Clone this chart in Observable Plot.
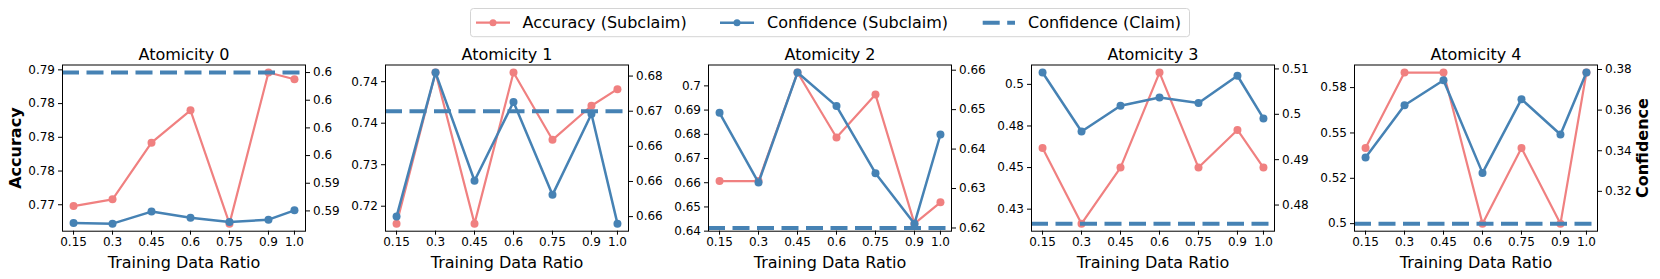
<!DOCTYPE html>
<html>
<head>
<meta charset="utf-8">
<script src="https://cdn.jsdelivr.net/npm/d3@7"></script>
<script src="https://cdn.jsdelivr.net/npm/@observablehq/plot@0.6"></script>
<style>
  html, body { margin: 0; padding: 0; background: white; }
  #root { position: relative; width: 1660px; height: 279px; overflow: hidden; font-family: "DejaVu Sans", sans-serif; }
  #root svg.panel { position: absolute; top: 0; }
</style>
</head>
<body>
<div id="root"></div>
<script>
// ---------------- data ----------------
const ratios = [0.15, 0.3, 0.45, 0.6, 0.75, 0.9, 1.0];
const ratioLabels = ["0.15", "0.3", "0.45", "0.6", "0.75", "0.9", "1.0"];
const titles = ["Atomicity 0", "Atomicity 1", "Atomicity 2", "Atomicity 3", "Atomicity 4"];

const accuracySubclaim = [
  [0.7774, 0.7779, 0.7821, 0.7845, 0.7761, 0.7873, 0.7868],
  [0.7229, 0.7411, 0.7229, 0.7411, 0.7330, 0.7371, 0.7391],
  [0.6607, 0.6607, 0.7055, 0.6787, 0.6964, 0.6431, 0.6519],
  [0.4618, 0.4163, 0.4500, 0.5071, 0.4500, 0.4726, 0.4500],
  [0.5417, 0.5833, 0.5833, 0.5000, 0.5417, 0.5000, 0.5833]
];
const confidenceSubclaim = [
  [0.59113, 0.59108, 0.59195, 0.59151, 0.59120, 0.59137, 0.59204],
  [0.6550, 0.6755, 0.6601, 0.6713, 0.6581, 0.6696, 0.6540],
  [0.6492, 0.6315, 0.6594, 0.6509, 0.6339, 0.6211, 0.6437],
  [0.5092, 0.4962, 0.5019, 0.5037, 0.5025, 0.5085, 0.4991],
  [0.3367, 0.3624, 0.3747, 0.3291, 0.3654, 0.3480, 0.3785]
];
const confidenceClaim = [0.6020, 0.6700, 0.6200, 0.4759, 0.3041];
const claimInRange = [true, true, false, true, true];

const accTicks = [
  [0.7775, 0.78, 0.7825, 0.785, 0.7875],
  [0.725, 0.73, 0.735, 0.74],
  [0.64, 0.65, 0.66, 0.67, 0.68, 0.69, 0.70],
  [0.425, 0.45, 0.475, 0.5],
  [0.5, 0.525, 0.55, 0.575]
];
const accTickLabels = [
  ["0.77", "0.78", "0.78", "0.78", "0.79"],
  ["0.72", "0.73", "0.74", "0.74"],
  ["0.64", "0.65", "0.66", "0.67", "0.68", "0.69", "0.7"],
  ["0.43", "0.45", "0.48", "0.5"],
  ["0.5", "0.52", "0.55", "0.58"]
];
const confTicks = [
  [0.592, 0.594, 0.596, 0.598, 0.600, 0.602],
  [0.655, 0.66, 0.665, 0.67, 0.675],
  [0.62, 0.63, 0.64, 0.65, 0.66],
  [0.48, 0.49, 0.50, 0.51],
  [0.32, 0.34, 0.36, 0.38]
];
const confTickLabels = [
  ["0.59", "0.59", "0.6", "0.6", "0.6", "0.6"],
  ["0.66", "0.66", "0.66", "0.67", "0.68"],
  ["0.62", "0.63", "0.64", "0.65", "0.66"],
  ["0.48", "0.49", "0.5", "0.51"],
  ["0.32", "0.34", "0.36", "0.38"]
];

const legendLabels = ["Accuracy (Subclaim)", "Confidence (Subclaim)", "Confidence (Claim)"];

// ---------------- style ----------------
const pink = "#F08080";
const blue = "#4682B4";
const FONT = "DejaVu Sans";

function lim(vals) {
  const lo = Math.min(...vals), hi = Math.max(...vals), m = (hi - lo) * 0.05;
  return [lo - m, hi + m];
}

const root = document.getElementById("root");

// ---------------- legend ----------------
const ns = "http://www.w3.org/2000/svg";
const leg = document.createElementNS(ns, "svg");
leg.setAttribute("width", 1660);
leg.setAttribute("height", 45);
leg.style.position = "absolute";
leg.style.left = "0px";
leg.style.top = "0px";
leg.innerHTML = `
  <rect x="470.5" y="8.5" width="719" height="28.2" rx="3" fill="white" stroke="#d4d4d4" stroke-width="1"/>
  <line x1="476" x2="510" y1="22.7" y2="22.7" stroke="${pink}" stroke-width="2.2"/>
  <circle cx="493" cy="22.7" r="3.5" fill="${pink}"/>
  <text x="522.5" y="28" font-family="${FONT}" font-size="16" fill="black">${legendLabels[0]}</text>
  <line x1="720" x2="754" y1="22.7" y2="22.7" stroke="${blue}" stroke-width="2.5"/>
  <circle cx="737" cy="22.7" r="3.5" fill="${blue}"/>
  <text x="767" y="28" font-family="${FONT}" font-size="16" fill="black">${legendLabels[1]}</text>
  <line x1="982.7" x2="1015" y1="22.7" y2="22.7" stroke="${blue}" stroke-width="4" stroke-dasharray="17,7.5"/>
  <text x="1028" y="28" font-family="${FONT}" font-size="16" fill="black">${legendLabels[2]}</text>
`;
root.appendChild(leg);

// ---------------- panels ----------------
const ML = 70, MR = 70, FRAME_W = 243;
const MT = 64.5, MB = 279 - 230.7;

for (let i = 0; i < 5; i++) {
  const acc = accuracySubclaim[i];
  const conf = confidenceSubclaim[i];
  const claim = confidenceClaim[i];
  const aDom = lim(acc);
  const cDom = lim(claimInRange[i] ? [...conf, claim] : conf);
  const toA = c => aDom[0] + (c - cDom[0]) * (aDom[1] - aDom[0]) / (cDom[1] - cDom[0]);

  const rows = ratios.map((r, j) => ({ratio: r, acc: acc[j], conf: toA(conf[j])}));

  const xMap = new Map(ratios.map((r, j) => [r, ratioLabels[j]]));
  const lMap = new Map(accTicks[i].map((t, j) => [t, accTickLabels[i][j]]));
  const rTicks = confTicks[i].map(toA);
  const rMap = new Map(rTicks.map((t, j) => [t, confTickLabels[i][j]]));

  const marks = [
    Plot.axisX({ticks: ratios, tickFormat: d => xMap.get(d), tickSize: 4, tickPadding: 2.3, label: null, fontSize: 12}),
    Plot.axisY({anchor: "left", ticks: accTicks[i], tickFormat: d => lMap.get(d), tickSize: 4, tickPadding: 3.5, label: null, fontSize: 12}),
    Plot.axisY({anchor: "right", ticks: rTicks, tickFormat: d => rMap.get(d), tickSize: 4, tickPadding: 3.5, label: null, fontSize: 12}),
    Plot.lineY(rows, {x: "ratio", y: "acc", stroke: pink, strokeWidth: 2.2}),
    Plot.dot(rows, {x: "ratio", y: "acc", fill: pink, r: 4}),
    Plot.lineY(rows, {x: "ratio", y: "conf", stroke: blue, strokeWidth: 2.5}),
    Plot.dot(rows, {x: "ratio", y: "conf", fill: blue, r: 4}),
    Plot.ruleY([toA(claim)], {stroke: blue, strokeWidth: 4, strokeDasharray: "17,7.5"}),
    Plot.frame({stroke: "black", strokeWidth: 1}),
    Plot.text([titles[i]], {frameAnchor: "top", lineAnchor: "bottom", dy: -5.5, fontSize: 16, fill: "black"}),
    Plot.text(["Training Data Ratio"], {frameAnchor: "bottom", lineAnchor: "bottom", dy: 36.8, fontSize: 16, fill: "black"})
  ];
  if (i === 0) {
    marks.push(Plot.text(["Accuracy"], {frameAnchor: "left", textAnchor: "middle", lineAnchor: "bottom", rotate: -90, dx: -42, fontSize: 16, fontWeight: "bold", fill: "black"}));
  }
  if (i === 4) {
    marks.push(Plot.text(["Confidence"], {frameAnchor: "right", textAnchor: "middle", lineAnchor: "bottom", rotate: -90, dx: 50, fontSize: 16, fontWeight: "bold", fill: "black"}));
  }

  const svg = Plot.plot({
    width: ML + FRAME_W + MR,
    height: 279,
    marginLeft: ML,
    marginRight: MR,
    marginTop: MT,
    marginBottom: MB,
    style: {fontFamily: FONT, fontSize: "12px", color: "black", background: "transparent", overflow: "visible"},
    x: {domain: lim(ratios)},
    y: {domain: aDom},
    marks
  });
  svg.classList.add("panel");
  svg.style.left = (62 + i * 323 - ML) + "px";
  svg.style.maxWidth = "none";
  root.appendChild(svg);
}
</script>
</body>
</html>
